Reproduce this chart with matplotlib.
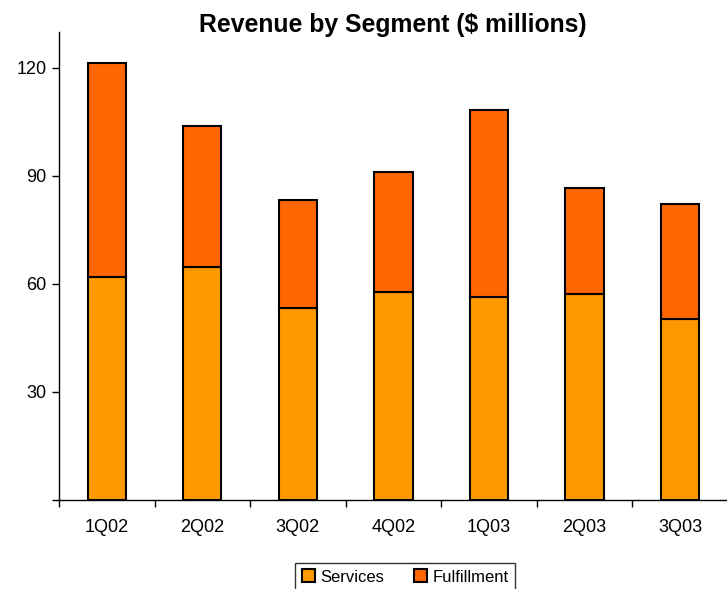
import matplotlib
matplotlib.use("Agg")
import matplotlib.pyplot as plt
import numpy as np
from matplotlib.ticker import FixedLocator

plt.rcParams['font.family'] = ['Liberation Sans', 'DejaVu Sans']

quarters = ["1Q02", "2Q02", "3Q02", "4Q02", "1Q03", "2Q03", "3Q03"]
services = [61.9, 64.7, 53.3, 57.8, 56.4, 57.2, 50.4]
totals = [121.4, 103.9, 83.3, 91.2, 108.2, 86.8, 82.1]
fulfillment = [t - s for t, s in zip(totals, services)]
yticks = [0, 30, 60, 90, 120]
ytick_labels = ["", "30", "60", "90", "120"]

fig = plt.figure(figsize=(7.27, 5.89), dpi=100)
ax = fig.add_axes([0.0812, 0.1511, 0.92, 0.7946])

x = np.arange(len(quarters))
ax.bar(x, services, width=0.4, color="#FF9900", edgecolor="black", linewidth=1.5, label="Services")
ax.bar(x, fulfillment, width=0.4, bottom=services, color="#FF6600", edgecolor="black", linewidth=1.5, label="Fulfillment")

ax.set_xlim(-0.5, len(quarters) - 0.5)
ax.set_ylim(0, 130)
ax.set_yticks(yticks)
ax.set_yticklabels(ytick_labels, fontsize=13)
ax.set_xticks(x)
ax.set_xticklabels(quarters, fontsize=13)
ax.tick_params(axis='x', which='major', length=0, pad=14)
ax.xaxis.set_minor_locator(FixedLocator(np.arange(-0.5, len(quarters), 1.0)))
ax.tick_params(axis='x', which='minor', length=5, direction='out', width=1)
ax.tick_params(axis='y', length=5, direction='out', width=1, pad=4)

for s in ["top", "right"]:
    ax.spines[s].set_visible(False)
for s in ["left", "bottom"]:
    ax.spines[s].set_linewidth(1)

fig.text(393/727, 1 - 32/589, "Revenue by Segment ($ millions)", fontsize=17.8,
         fontweight='bold', ha='center', va='baseline')

leg = fig.legend(loc='center', bbox_to_anchor=(405/727, 1 - 577/589), ncol=2, fontsize=12,
                 frameon=True, fancybox=False, edgecolor='black', handlelength=0.8,
                 handleheight=0.8, handletextpad=0.3, columnspacing=1.8, borderpad=0.4)
leg.get_frame().set_linewidth(1)

fig.savefig("out.png", dpi=100)
